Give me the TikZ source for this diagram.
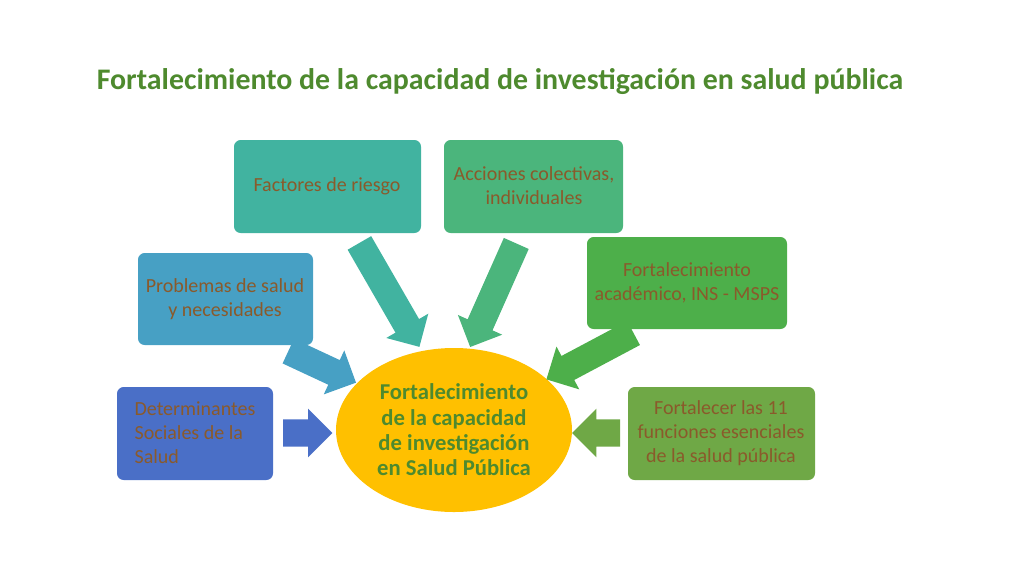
\documentclass[tikz,border=0pt]{standalone}
\usepackage{fontspec}
\setmainfont{Carlito}
\usetikzlibrary{shapes.arrows,shapes.geometric}
\definecolor{ttl}{HTML}{4E8A2E}
\definecolor{txt}{HTML}{8A5A2B}
\definecolor{cA}{HTML}{4A6FC7}
\definecolor{cB}{HTML}{47A0C4}
\definecolor{cC}{HTML}{41B3A0}
\definecolor{cD}{HTML}{4BB57C}
\definecolor{cE}{HTML}{4DAF4A}
\definecolor{cF}{HTML}{6FA846}
\definecolor{yel}{HTML}{FFC000}
\tikzset{
 bx/.style={rounded corners=5pt,draw=none,text=txt,align=center,font=\fontsize{15}{18}\selectfont,inner sep=2pt},
 fat/.style={single arrow,draw=none,inner xsep=0pt,inner ysep=10pt,single arrow head extend=8pt}
}
\begin{document}
\begin{tikzpicture}[x=0.75pt,y=-0.75pt]
\useasboundingbox (0,0) rectangle (1024,576);
\node[text=ttl,font=\bfseries\fontsize{22.4}{26}\selectfont] (title) at (500,82) {Fortalecimiento de la capacidad de investigación en salud pública};
\fill[cA,rounded corners=5pt] (117,387) rectangle (273,480);
\node[bx,align=left] (a) at (195,433) {Determinantes\\Sociales de la\\Salud};
\fill[cB,rounded corners=5pt] (138,253) rectangle (313,345);
\node[bx] (b) at (225,299) {Problemas de salud\\y necesidades};
\fill[cC,rounded corners=5pt] (234,140) rectangle (421,233);
\node[bx] (c) at (327,186) {Factores de riesgo};
\fill[cD,rounded corners=5pt] (444,140) rectangle (623,233);
\node[bx] (d) at (534,186) {Acciones colectivas,\\individuales};
\fill[cE,rounded corners=5pt] (587,237) rectangle (787,329);
\node[bx] (e) at (687,283) {Fortalecimiento\\académico, INS - MSPS};
\fill[cF,rounded corners=5pt] (628,387) rectangle (815,480);
\node[bx] (f) at (721,433) {Fortalecer las 11\\funciones esenciales\\de la salud pública};
\node[ellipse,fill=yel,minimum width=177pt,minimum height=123pt,inner sep=0pt] (m) at (454,430) {};
\node[text=ttl,font=\bfseries\fontsize{17}{19}\selectfont,align=center] (mt) at (454,430) {Fortalecimiento\\de la capacidad\\de  investigación\\en Salud Pública};
\node[fat,fill=cA,minimum height=37pt] (a1) at (301,433) {};
\node[fat,fill=cB,minimum height=56pt,rotate=-25] (b1) at (316,364) {};
\node[fat,fill=cC,minimum height=90pt,rotate=-60] (c1) at (386,289) {};
\node[fat,fill=cD,minimum height=85pt,rotate=-114] (d1) at (496,289) {};
\node[fat,fill=cE,minimum height=74pt,rotate=208] (e1) at (596,353) {};
\node[fat,fill=cF,minimum height=36pt,rotate=180] (f1) at (603,433) {};
\end{tikzpicture}
\end{document}
